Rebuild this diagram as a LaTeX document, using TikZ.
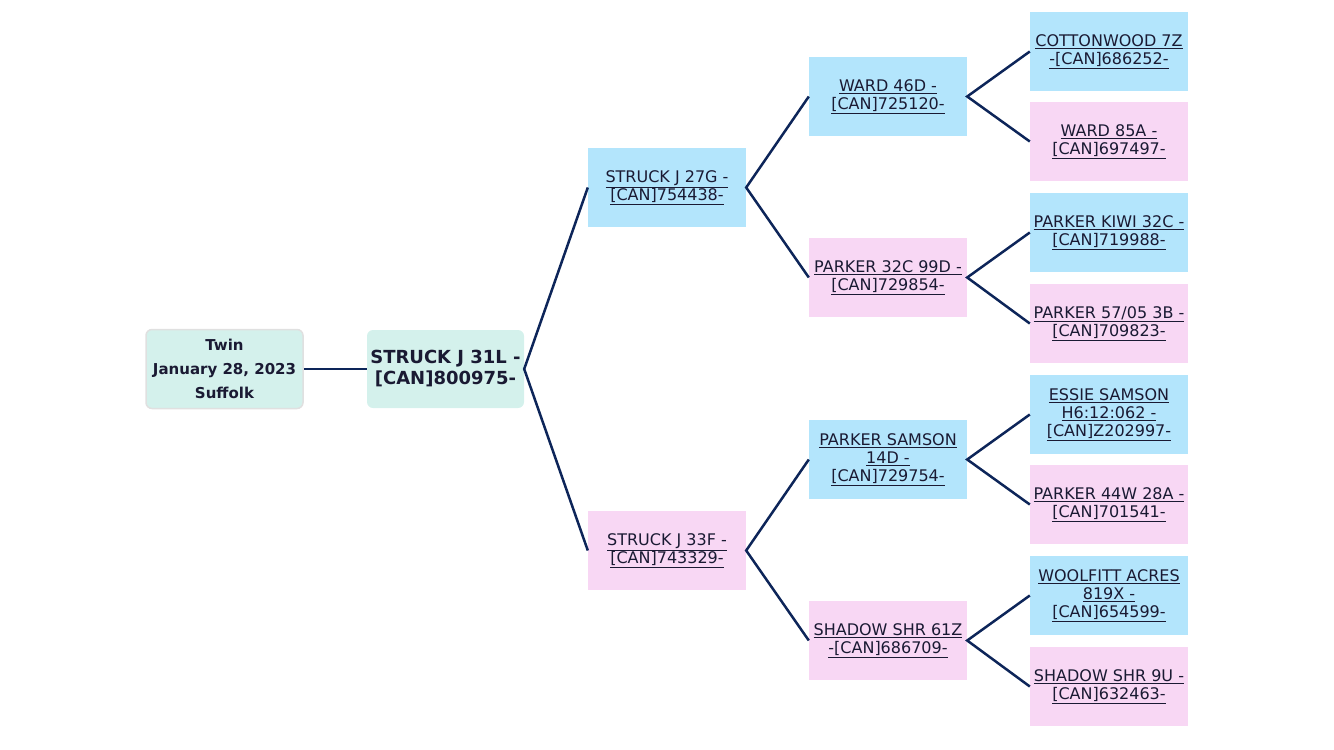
\documentclass[tikz,border=0pt]{standalone}
\usepackage{fontspec}
\setmainfont{DejaVu Sans}
\definecolor{sirefill}{HTML}{B3E5FC}
\definecolor{damfill}{HTML}{F8D7F4}
\definecolor{basefill}{HTML}{D4F1EC}
\definecolor{edgeline}{HTML}{0D2559}
\definecolor{nametext}{HTML}{1A1A33}
\newcommand{\lnk}[1]{\underline{#1}}
\begin{document}
\begin{tikzpicture}[x=1pt, y=-1pt,
    ped/.style={minimum width=158pt, minimum height=79pt, inner sep=0pt, align=center,
        text=nametext, font={\fontsize{16}{18}\selectfont}},
    sire/.style={ped, fill=sirefill},
    dam/.style={ped, fill=damfill},
    link/.style={edgeline, line width=2.5pt}]
    \useasboundingbox (0,0) rectangle (1334,750);

    % info and subject
    \node[ped, fill=basefill, draw=black!12, line width=1.5pt, rounded corners=6pt,
        minimum width=157pt, minimum height=79pt,
        font={\fontsize{15}{24}\selectfont\bfseries}] (info) at (224.5,369)
        {Twin\\January 28, 2023\\Suffolk};
    \node[ped, fill=basefill, rounded corners=6pt, minimum width=157pt, minimum height=78pt,
        font={\fontsize{18}{21}\selectfont\bfseries}] (subj) at (445.5,369)
        {STRUCK J 31L -\\{}[CAN]800975-};

    % parents
    \node[sire] (s) at (667,187.5) {\lnk{STRUCK J 27G -}\\\lnk{[CAN]754438-}};
    \node[dam] (d) at (667,550.5) {\lnk{STRUCK J 33F -}\\\lnk{[CAN]743329-}};

    % grandparents
    \node[sire] (ss) at (888,96.5) {\lnk{WARD 46D -}\\\lnk{[CAN]725120-}};
    \node[dam] (sd) at (888,277.5) {\lnk{PARKER 32C 99D -}\\\lnk{[CAN]729854-}};
    \node[sire] (ds) at (888,459.5) {\lnk{PARKER SAMSON}\\\lnk{14D -}\\\lnk{[CAN]729754-}};
    \node[dam] (dd) at (888,640.5) {\lnk{SHADOW SHR 61Z}\\\lnk{-[CAN]686709-}};

    % great-grandparents
    \node[sire] (sss) at (1109,51.5) {\lnk{COTTONWOOD 7Z}\\\lnk{-[CAN]686252-}};
    \node[dam] (ssd) at (1109,141.5) {\lnk{WARD 85A -}\\\lnk{[CAN]697497-}};
    \node[sire] (sds) at (1109,232.5) {\lnk{PARKER KIWI 32C -}\\\lnk{[CAN]719988-}};
    \node[dam] (sdd) at (1109,323.5) {\lnk{PARKER 57/05 3B -}\\\lnk{[CAN]709823-}};
    \node[sire] (dss) at (1109,414.5) {\lnk{ESSIE SAMSON}\\\lnk{H6:12:062 -}\\\lnk{[CAN]Z202997-}};
    \node[dam] (dsd) at (1109,504.5) {\lnk{PARKER 44W 28A -}\\\lnk{[CAN]701541-}};
    \node[sire] (dds) at (1109,595.5) {\lnk{WOOLFITT ACRES}\\\lnk{819X -}\\\lnk{[CAN]654599-}};
    \node[dam] (ddd) at (1109,686.5) {\lnk{SHADOW SHR 9U -}\\\lnk{[CAN]632463-}};

    % lines
    \draw[link] (info.east) -- (subj.west);
    \draw[link] (s.west) -- (subj.east) -- (d.west);
    \draw[link] (ss.west) -- (s.east) -- (sd.west);
    \draw[link] (ds.west) -- (d.east) -- (dd.west);
    \draw[link] (sss.west) -- (ss.east) -- (ssd.west);
    \draw[link] (sds.west) -- (sd.east) -- (sdd.west);
    \draw[link] (dss.west) -- (ds.east) -- (dsd.west);
    \draw[link] (dds.west) -- (dd.east) -- (ddd.west);
\end{tikzpicture}
\end{document}
